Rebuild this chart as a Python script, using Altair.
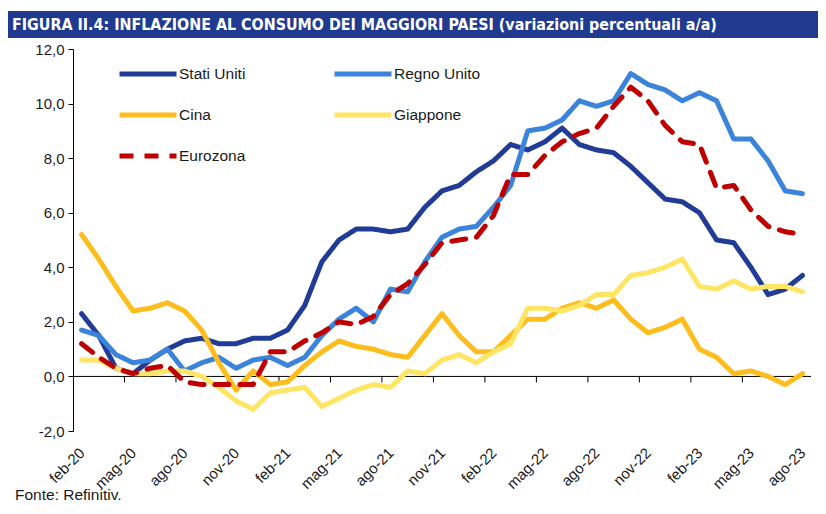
import altair as alt
import pandas as pd

months = ["feb-20", "mar-20", "apr-20", "mag-20", "giu-20", "lug-20", "ago-20", "set-20",
          "ott-20", "nov-20", "dic-20", "gen-21", "feb-21", "mar-21", "apr-21", "mag-21",
          "giu-21", "lug-21", "ago-21", "set-21", "ott-21", "nov-21", "dic-21", "gen-22",
          "feb-22", "mar-22", "apr-22", "mag-22", "giu-22", "lug-22", "ago-22", "set-22",
          "ott-22", "nov-22", "dic-22", "gen-23", "feb-23", "mar-23", "apr-23", "mag-23",
          "giu-23", "lug-23", "ago-23"]

series_names = ["Stati Uniti", "Regno Unito", "Cina", "Giappone", "Eurozona"]
series_colors = ["#203c96", "#3a84dc", "#fdbd1c", "#ffe564", "#c00000"]
series_dash = [[1, 0], [1, 0], [1, 0], [1, 0], [14, 11]]
# legend is filled column by column: reorder so it reads row by row
legend_order = ["Stati Uniti", "Cina", "Eurozona", "Regno Unito", "Giappone"]

stati_uniti = [2.3, 1.5, 0.3, 0.1, 0.6, 1.0, 1.3, 1.4, 1.2, 1.2, 1.4, 1.4, 1.7, 2.6, 4.2, 5.0,
               5.4, 5.4, 5.3, 5.4, 6.2, 6.8, 7.0, 7.5, 7.9, 8.5, 8.3, 8.6, 9.1, 8.5, 8.3, 8.2,
               7.7, 7.1, 6.5, 6.4, 6.0, 5.0, 4.9, 4.0, 3.0, 3.2, 3.7]
regno_unito = [1.7, 1.5, 0.8, 0.5, 0.6, 1.0, 0.2, 0.5, 0.7, 0.3, 0.6, 0.7, 0.4, 0.7, 1.5, 2.1,
               2.5, 2.0, 3.2, 3.1, 4.2, 5.1, 5.4, 5.5, 6.2, 7.0, 9.0, 9.1, 9.4, 10.1, 9.9, 10.1,
               11.1, 10.7, 10.5, 10.1, 10.4, 10.1, 8.7, 8.7, 7.9, 6.8, 6.7]
cina = [5.2, 4.3, 3.3, 2.4, 2.5, 2.7, 2.4, 1.7, 0.5, -0.5, 0.2, -0.3, -0.2, 0.4, 0.9, 1.3,
        1.1, 1.0, 0.8, 0.7, 1.5, 2.3, 1.5, 0.9, 0.9, 1.5, 2.1, 2.1, 2.5, 2.7, 2.5, 2.8,
        2.1, 1.6, 1.8, 2.1, 1.0, 0.7, 0.1, 0.2, 0.0, -0.3, 0.1]
giappone = [0.6, 0.6, 0.3, 0.1, 0.1, 0.2, 0.2, 0.0, -0.4, -0.9, -1.2, -0.6, -0.5, -0.4, -1.1, -0.8,
            -0.5, -0.3, -0.4, 0.2, 0.1, 0.6, 0.8, 0.5, 0.9, 1.2, 2.5, 2.5, 2.4, 2.6, 3.0, 3.0,
            3.7, 3.8, 4.0, 4.3, 3.3, 3.2, 3.5, 3.2, 3.3, 3.3, 3.1]
eurozona = [1.2, 0.7, 0.3, 0.1, 0.3, 0.4, -0.2, -0.3, -0.3, -0.3, -0.3, 0.9, 0.9, 1.3, 1.6, 2.0,
            1.9, 2.2, 3.0, 3.4, 4.1, 4.9, 5.0, 5.1, 5.9, 7.4, 7.4, 8.1, 8.6, 8.9, 9.1, 9.9,
            10.6, 10.1, 9.2, 8.6, 8.5, 6.9, 7.0, 6.1, 5.5, 5.3, 5.2]

y_ticks = [-2, 0, 2, 4, 6, 8, 10, 12]
title_text = "FIGURA II.4: INFLAZIONE AL CONSUMO DEI MAGGIORI PAESI (variazioni percentuali a/a)"
source_text = "Fonte: Refinitiv."

rows = []
for name, vals in zip(series_names, [stati_uniti, regno_unito, cina, giappone, eurozona]):
    for i, v in enumerate(vals):
        rows.append({"i": i, "mese": months[i], "serie": name, "valore": v})
df = pd.DataFrame(rows)

label_idx = list(range(0, len(months), 3))
label_list = [months[k] for k in label_idx]
label_expr = "[" + ",".join("'%s'" % m for m in label_list) + "][round(datum.value/3)]"
tick_pos = [k - 0.5 for k in range(3, len(months) - 1, 3)]

W, H = 738, 382
FONT = "Liberation Sans"
xscale = alt.Scale(domain=[-0.5, len(months) - 0.5], nice=False, zero=False)
yscale = alt.Scale(domain=[-2, 12], nice=False, zero=False)

x_axis = alt.Axis(values=label_idx, labelExpr=label_expr, labelAngle=-45,
                  ticks=False, domain=False, grid=False, title=None,
                  labelFontSize=15, labelPadding=19, labelAlign="right",
                  labelBaseline="middle")
y_axis = alt.Axis(values=y_ticks,
                  labelExpr="replace(replace(format(datum.value,'.1f'),'.',','),'\u2212','-')",
                  grid=False, title=None, domainColor="black", tickColor="black",
                  tickSize=5, labelFontSize=15, labelPadding=4)

col_map = dict(zip(series_names, series_colors))
dash_map = dict(zip(series_names, series_dash))

legend_kw = dict(
    orient="none", legendX=44, legendY=-6, columns=2, title=None,
    symbolType="stroke", symbolSize=3249, symbolStrokeWidth=5,
    labelFontSize=15.5, labelFont=FONT, labelColor="#1a1a1a", labelOffset=0,
    columnPadding=78, rowPadding=-20, padding=0,
)

lines = alt.Chart(df).mark_line(strokeWidth=5, strokeCap="round", strokeJoin="round").encode(
    x=alt.X("i:Q", scale=xscale, axis=x_axis),
    y=alt.Y("valore:Q", scale=yscale, axis=y_axis),
    color=alt.Color("serie:N",
                    scale=alt.Scale(domain=legend_order, range=[col_map[s] for s in legend_order]),
                    legend=alt.Legend(**legend_kw)),
    strokeDash=alt.StrokeDash("serie:N",
                              scale=alt.Scale(domain=legend_order,
                                              range=[dash_map[s] for s in legend_order]),
                              legend=alt.Legend(**legend_kw)),
    order="i:Q",
)

zero_line = alt.Chart(pd.DataFrame({"valore": [0]})).mark_rule(color="black", strokeWidth=1).encode(
    y=alt.Y("valore:Q", scale=yscale, axis=y_axis)
)

x_ticks = alt.Chart(pd.DataFrame({"i": tick_pos})).mark_rule(
    color="black", strokeWidth=1, y2Offset=6
).encode(
    x=alt.X("i:Q", scale=xscale, axis=x_axis),
    y=alt.datum(0),
    y2=alt.datum(0),
)

banner = alt.Chart(pd.DataFrame({"t": [title_text]})).mark_rect(color="#1f3a8f").encode(
    x=alt.value(-65), x2=alt.value(745), y=alt.value(-38), y2=alt.value(-11)
)
title = alt.Chart(pd.DataFrame({"t": [title_text]})).mark_text(
    align="left", baseline="middle", color="white", fontWeight="bold", fontSize=15.9,
    font="Liberation Sans Narrow, DejaVu Sans Condensed, Liberation Sans"
).encode(x=alt.value(-61), y=alt.value(-24), text="t:N")

source = alt.Chart(pd.DataFrame({"t": [source_text]})).mark_text(
    align="left", baseline="alphabetic", color="#1a1a1a", fontSize=15.5, font=FONT
).encode(x=alt.value(-58), y=alt.value(451), text="t:N")

chart = alt.layer(banner, title, zero_line, x_ticks, lines, source).properties(
    width=W, height=H,
    padding={"left": 65, "top": 41, "right": 7, "bottom": 75},
    autosize=alt.AutoSizeParams(type="none"),
).configure_view(stroke=None).configure_axis(labelFont=FONT, labelColor="#1a1a1a")

chart.save("out.html", embed_options={"renderer": "svg", "actions": False})
